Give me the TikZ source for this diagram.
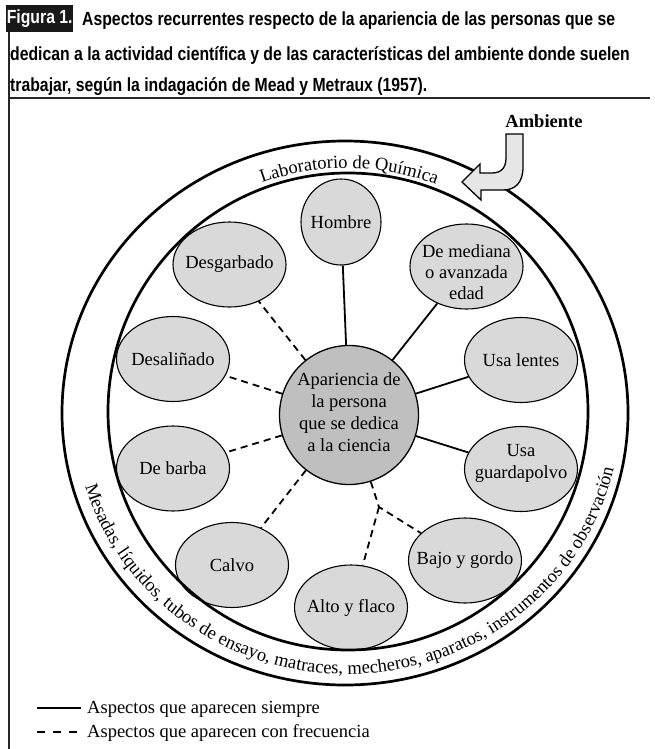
\documentclass[tikz,border=0pt]{standalone}
\usepackage{fontspec}
\setmainfont{Liberation Serif}
\newfontfamily\hdfont[FakeStretch=0.83]{Liberation Sans}
\usetikzlibrary{shapes.geometric,decorations.text}
\definecolor{ovalgray}{HTML}{D9D9D9}
\definecolor{centgray}{HTML}{BFBFBF}
\definecolor{arrowgray}{HTML}{E6E6E6}
\newcommand\mybody{\fontsize{18.5pt}{22pt}\selectfont}
\newcommand\myhead{\hdfont\bfseries\fontsize{19pt}{21pt}\selectfont}
\tikzset{
  ring/.style={line width=2.7pt},
  oval/.style={ellipse, draw, line width=1.1pt, fill=ovalgray, minimum width=113pt, minimum height=85pt, inner sep=0pt},
  lbl/.style={font=\mybody, align=center, inner sep=0pt},
  hd/.style={font=\myhead, inner sep=0pt},
  always/.style={line width=1.8pt},
  often/.style={line width=1.8pt, dash pattern=on 7pt off 5pt},
  frame/.style={line width=2.5pt, draw=black!85},
}
\begin{document}
\begin{tikzpicture}[x=1pt,y=-1pt]
\useasboundingbox (0,0) rectangle (654,749);
% header
\draw[frame] (9,5) -- (9,749);
\draw[frame] (9,98) -- (650,98);
\node[fill=black!90, text=white, font=\myhead, minimum width=67pt, minimum height=27pt, anchor=north west, inner sep=0pt] (fig) at (6,5) {Figura 1.};
\node[hd, anchor=base west] (h1) at (82,25.5) {Aspectos recurrentes respecto de la apariencia de las personas que se};
\node[hd, anchor=base west] (h2) at (10,60.5) {dedican a la actividad científica y de las características del ambiente donde suelen};
\node[hd, anchor=base west] (h3) at (10,91.5) {trabajar, según la indagación de Mead y Metraux (1957).};
% ovals
\node[oval, minimum width=80pt, minimum height=86pt] (hom) at (341,222) {};
\node[lbl] (homt) at (hom) {Hombre};
\node[oval] (dm) at (466.5,266.5) {};
\node[lbl] (dmt) at (466.5,272) {De mediana\\[-1pt]o avanzada\\[-1pt]edad};
\node[oval] (ul) at (521,360) {};
\node[lbl] (ult) at (ul) {Usa lentes};
\node[oval] (ug) at (521,469) {};
\node[lbl] (ugt) at (521,463) {Usa\\guardapolvo};
\node[oval] (bg) at (465,560.5) {};
\node[lbl] (bgt) at (bg) {Bajo y gordo};
\node[oval] (af) at (351,607.5) {};
\node[lbl] (aft) at (af) {Alto y flaco};
\node[oval] (ca) at (232,565) {};
\node[lbl] (cat) at (ca) {Calvo};
\node[oval] (db) at (173,468.5) {};
\node[lbl] (dbt) at (db) {De barba};
\node[oval] (ds) at (173,359) {};
\node[lbl] (dst) at (ds) {Desaliñado};
\node[oval] (dg) at (229.5,264.5) {};
\node[lbl] (dgt) at (dg) {Desgarbado};
\node[circle, draw, line width=1.3pt, fill=centgray, minimum size=139pt, inner sep=0pt] (cc) at (349,415) {};
\node[lbl] (cct) at (349,412) {Apariencia de\\la persona\\que se dedica\\a la ciencia};
% connectors
\draw[always] (hom) -- (cc);
\draw[always] (dm) -- (cc);
\draw[always] (ul) -- (cc);
\draw[always] (ug) -- (cc);
\coordinate (jn) at (379,507);
\draw[often] (cc) -- (jn) -- (bg);
\draw[often] (jn) -- (af);
\draw[often] (cc) -- (ca);
\draw[often] (cc) -- (db);
\draw[often] (cc) -- (ds);
\draw[often] (cc) -- (dg);
% rings
\coordinate (O) at (347,412);
\draw[ring] (345,413) ellipse [x radius=283, y radius=272];
\draw[ring] (348,411.5) ellipse [x radius=240, y radius=238.5];
\path[decorate, decoration={text along path, text={|\mybody|Laboratorio de Química}, text align=center}]
  (O) ++(240:246 and 244) arc[start angle=240, end angle=301, x radius=246, y radius=244];
\path[decorate, decoration={text along path, text={|\mybody|Mesadas, líquidos, tubos de ensayo, matraces, mecheros, aparatos, instrumentos de observación}, text align=center}]
  (O) ++(176:273 and 262) arc[start angle=176, end angle=0, x radius=273, y radius=262];
% arrow
\draw[line width=1.3pt, fill=arrowgray, line join=miter] (506,134) -- (523,134) -- (523,167) .. controls (523,183) and (515,190) .. (503,190) -- (481,190) -- (481,200) -- (462,182) -- (480,164) -- (480,173) -- (492,173) .. controls (501,173) and (506,168) .. (506,158) -- cycle;
\node[font=\mybody\bfseries, inner sep=0pt] (amb) at (544,121) {Ambiente};
% legend
\coordinate (s1) at (37,708); \coordinate (s2) at (81,708);
\draw[always] (s1) -- (s2);
\node[lbl, anchor=base west] (l1) at (87,713) {Aspectos que aparecen siempre};
\coordinate (f1) at (37,732); \coordinate (f2) at (81,732);
\draw[line width=1.8pt, dash pattern=on 8pt off 8pt] (f1) -- (f2);
\node[lbl, anchor=base west] (l2) at (87,737) {Aspectos que aparecen con frecuencia};
\end{tikzpicture}
\end{document}
